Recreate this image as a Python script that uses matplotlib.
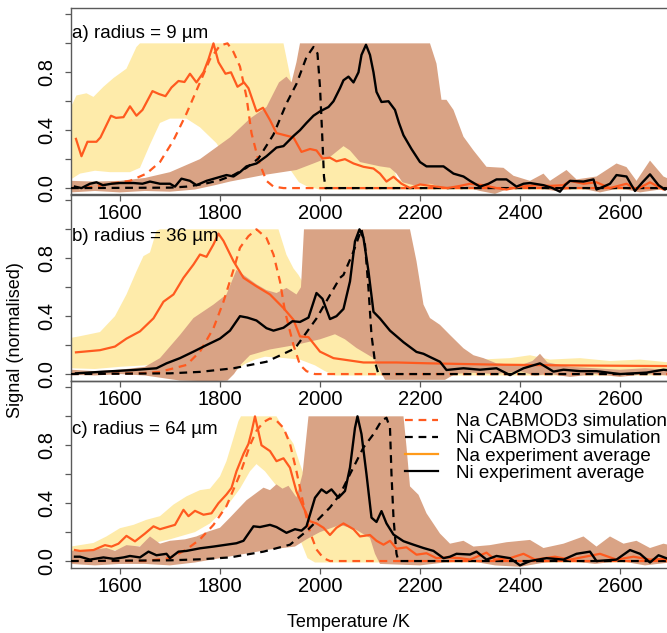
import matplotlib
matplotlib.use("Agg")
import matplotlib.pyplot as plt
import numpy as np
from matplotlib.lines import Line2D

plt.rcParams["font.family"] = ["Liberation Sans", "DejaVu Sans"]

# ---- panel a: radius = 9 um  (temperature K, normalised signal) ----
a_na_exp = [(1512, 0.34), (1523, 0.22), (1535, 0.32), (1553, 0.32), (1561, 0.35), (1582, 0.50), (1592, 0.485),
            (1607, 0.49), (1620, 0.565), (1633, 0.50), (1645, 0.54), (1665, 0.67), (1678, 0.65), (1691, 0.635),
            (1703, 0.695), (1717, 0.74), (1729, 0.733), (1740, 0.79), (1753, 0.73), (1767, 0.80), (1777, 0.89),
            (1787, 1.0), (1797, 0.87), (1811, 0.79), (1822, 0.80), (1835, 0.70), (1848, 0.73), (1857, 0.69),
            (1873, 0.53), (1886, 0.555), (1900, 0.47), (1913, 0.38), (1930, 0.365), (1947, 0.35), (1963, 0.25),
            (1980, 0.27), (1993, 0.26), (2005, 0.205), (2020, 0.21), (2033, 0.185), (2050, 0.20), (2067, 0.17),
            (2087, 0.147), (2107, 0.135), (2120, 0.10), (2133, 0.045), (2147, 0.078), (2163, 0.03), (2180, 0.0),
            (2200, 0.025), (2233, 0.01), (2255, 0.0), (2280, 0.015), (2300, 0.03), (2327, 0.02), (2353, 0.0),
            (2373, -0.01), (2400, 0.01), (2433, 0.02), (2460, 0.015), (2487, 0.02), (2500, 0.05), (2527, 0.03),
            (2553, 0.04), (2580, 0.0), (2613, 0.03), (2633, -0.01), (2660, 0.04), (2687, -0.01), (2700, 0.0)]
a_ni_exp = [(1510, 0.01), (1523, 0.0), (1540, 0.03), (1553, 0.04), (1566, 0.02), (1583, 0.03), (1600, 0.035),
            (1627, 0.035), (1645, 0.03), (1660, 0.045), (1680, 0.03), (1700, 0.03), (1710, 0.01), (1723, 0.065),
            (1740, 0.05), (1753, 0.02), (1773, 0.05), (1793, 0.07), (1813, 0.09), (1827, 0.08), (1840, 0.11),
            (1853, 0.15), (1873, 0.17), (1893, 0.22), (1913, 0.28), (1927, 0.29), (1947, 0.36), (1960, 0.40),
            (1973, 0.45), (1987, 0.50), (2000, 0.53), (2017, 0.56), (2027, 0.60), (2040, 0.69), (2047, 0.745),
            (2057, 0.77), (2067, 0.73), (2077, 0.80), (2083, 0.92), (2092, 0.99), (2100, 0.92), (2107, 0.80),
            (2113, 0.665), (2123, 0.595), (2137, 0.60), (2150, 0.54), (2158, 0.45), (2167, 0.365), (2183, 0.27),
            (2200, 0.18), (2213, 0.15), (2230, 0.15), (2247, 0.15), (2267, 0.10), (2287, 0.08), (2300, 0.05),
            (2320, 0.01), (2337, 0.03), (2353, 0.06), (2373, 0.06), (2393, 0.01), (2407, 0.03), (2420, 0.035),
            (2447, 0.02), (2465, 0.0), (2480, -0.025), (2490, 0.02), (2500, 0.05), (2527, 0.045), (2547, 0.06),
            (2553, -0.01), (2567, 0.01), (2580, 0.03), (2593, 0.09), (2613, 0.08), (2623, 0.02), (2630, -0.02),
            (2645, 0.04), (2660, 0.095), (2677, 0.02), (2690, -0.01), (2700, 0.01)]
a_na_sim = [(1502, 0.0), (1540, 0.005), (1580, 0.03), (1620, 0.05), (1653, 0.10), (1680, 0.18), (1707, 0.33),
            (1733, 0.515), (1760, 0.73), (1780, 0.89), (1800, 0.985), (1815, 1.0), (1827, 0.94), (1840, 0.84),
            (1853, 0.63), (1863, 0.38), (1877, 0.19), (1893, 0.05), (1907, 0.01), (1927, 0.0), (2700, 0.0)]
a_ni_sim = [(1502, 0.0), (1700, 0.003), (1733, 0.01), (1770, 0.03), (1800, 0.055), (1827, 0.09), (1853, 0.14),
            (1877, 0.205), (1907, 0.37), (1933, 0.585), (1953, 0.72), (1973, 0.905), (1987, 0.975), (1995, 0.93),
            (2000, 0.70), (2004, 0.40), (2008, 0.08), (2011, 0.0), (2700, 0.0)]
a_na_lo = [(1502, 0.06), (1520, 0.10), (1550, 0.12), (1580, 0.11), (1620, 0.11), (1640, 0.14), (1660, 0.30),
           (1680, 0.45), (1700, 0.48), (1733, 0.48), (1760, 0.42), (1793, 0.31), (1813, 0.20), (1850, 0.16),
           (1900, 0.15), (1940, 0.13), (1958, 0.04), (1975, 0.01), (2000, -0.01), (2700, -0.01)]
a_na_hi = [(1502, 0.56), (1513, 0.64), (1533, 0.655), (1547, 0.63), (1567, 0.70), (1587, 0.76), (1613, 0.825),
           (1633, 0.975), (1640, 1.0), (1927, 1.0), (1943, 0.73), (1960, 0.60), (2000, 0.50), (2100, 0.40),
           (2140, 0.20), (2155, 0.06), (2200, 0.04), (2300, 0.035), (2400, 0.04), (2500, 0.03), (2600, 0.04),
           (2700, 0.035)]
a_ni_lo = [(1502, -0.03), (1550, -0.02), (1600, -0.03), (1650, -0.02), (1700, -0.025), (1750, -0.01),
           (1790, 0.02), (1820, 0.045), (1887, 0.09), (1953, 0.125), (1987, 0.17), (2020, 0.215), (2047, 0.29),
           (2060, 0.26), (2080, 0.18), (2100, 0.165), (2120, 0.15), (2140, 0.14), (2153, 0.10), (2165, 0.04),
           (2187, 0.02), (2220, 0.03), (2250, 0.0), (2290, 0.01), (2320, -0.02), (2350, -0.04), (2380, 0.0),
           (2420, 0.01), (2470, -0.02), (2520, 0.0), (2560, -0.03), (2600, 0.0), (2640, -0.03), (2700, 0.0)]
a_ni_hi = [(1502, 0.05), (1550, 0.045), (1600, 0.05), (1650, 0.07), (1700, 0.11), (1760, 0.20), (1820, 0.35),
           (1860, 0.48), (1893, 0.56), (1918, 0.73), (1933, 0.77), (1943, 0.73), (1953, 0.87), (1960, 1.0),
           (2220, 1.0), (2233, 0.86), (2243, 0.61), (2253, 0.61), (2267, 0.54), (2287, 0.355), (2307, 0.26),
           (2333, 0.147), (2367, 0.14), (2387, 0.085), (2420, 0.05), (2447, 0.10), (2460, 0.05), (2493, 0.125),
           (2513, 0.06), (2553, 0.08), (2593, 0.17), (2613, 0.145), (2633, 0.05), (2660, 0.19), (2687, 0.08),
           (2700, 0.06)]

# ---- panel b: radius = 36 um ----
b_na_exp = [(1512, 0.15), (1560, 0.165), (1590, 0.19), (1613, 0.245), (1640, 0.295), (1667, 0.385),
            (1687, 0.50), (1707, 0.55), (1727, 0.665), (1747, 0.757), (1760, 0.826), (1773, 0.81), (1787, 0.896),
            (1797, 0.97), (1807, 0.92), (1827, 0.78), (1847, 0.665), (1873, 0.606), (1900, 0.55), (1927, 0.456),
            (1947, 0.375), (1960, 0.26), (1977, 0.255), (2000, 0.155), (2027, 0.11), (2087, 0.08), (2153, 0.08),
            (2220, 0.074), (2353, 0.065), (2487, 0.06), (2700, 0.055)]
b_ni_exp = [(1512, 0.005), (1560, 0.015), (1627, 0.028), (1673, 0.04), (1693, 0.074), (1720, 0.11),
            (1747, 0.155), (1773, 0.20), (1800, 0.245), (1820, 0.30), (1840, 0.40), (1855, 0.39), (1873, 0.37),
            (1893, 0.317), (1907, 0.30), (1927, 0.32), (1945, 0.365), (1960, 0.36), (1977, 0.39), (1993, 0.56),
            (2005, 0.52), (2020, 0.38), (2033, 0.40), (2047, 0.45), (2060, 0.64), (2070, 0.917), (2079, 1.0),
            (2087, 0.94), (2097, 0.71), (2107, 0.43), (2120, 0.384), (2140, 0.30), (2167, 0.22), (2193, 0.153),
            (2207, 0.14), (2220, 0.118), (2240, 0.085), (2253, 0.028), (2287, 0.04), (2320, 0.03), (2353, 0.04),
            (2380, -0.007), (2407, 0.04), (2440, 0.074), (2467, 0.017), (2487, 0.03), (2520, 0.02), (2553, 0.02),
            (2600, 0.0), (2653, 0.01), (2687, 0.03), (2700, 0.025)]
b_na_sim = [(1502, 0.0), (1640, 0.005), (1680, 0.015), (1733, 0.063), (1760, 0.155), (1787, 0.317),
            (1807, 0.50), (1827, 0.72), (1840, 0.873), (1857, 0.953), (1873, 1.0), (1893, 0.94), (1907, 0.826),
            (1920, 0.64), (1930, 0.433), (1947, 0.20), (1960, 0.063), (1973, 0.02), (1990, 0.0), (2700, 0.0)]
b_ni_sim = [(1502, 0.0), (1700, 0.005), (1760, 0.015), (1827, 0.04), (1893, 0.085), (1950, 0.177), (1993, 0.384),
            (2020, 0.546), (2040, 0.665), (2047, 0.685), (2067, 0.847), (2083, 1.0), (2090, 0.894), (2097, 0.59),
            (2103, 0.27), (2110, 0.083), (2117, 0.0), (2700, 0.0)]
b_na_lo = [(1502, 0.04), (1550, 0.035), (1600, 0.05), (1650, 0.06), (1700, 0.07), (1750, 0.06), (1800, 0.04),
           (1830, 0.02), (1850, 0.07), (1870, 0.10), (1890, 0.12), (1930, 0.11), (1960, 0.10), (1990, 0.06),
           (2010, 0.02), (2030, -0.01), (2700, -0.01)]
b_na_hi = [(1502, 0.25), (1518, 0.26), (1560, 0.29), (1590, 0.40), (1613, 0.55), (1633, 0.71), (1647, 0.815),
           (1660, 0.84), (1673, 0.99), (1680, 1.0), (1917, 1.0), (1933, 0.824), (1947, 0.73), (1957, 0.685),
           (1980, 0.55), (2030, 0.50), (2100, 0.30), (2200, 0.20), (2280, 0.12), (2320, 0.10), (2380, 0.11),
           (2420, 0.13), (2460, 0.10), (2520, 0.11), (2580, 0.09), (2640, 0.10), (2700, 0.08)]
b_ni_lo = [(1502, -0.005), (1550, -0.01), (1600, 0.0), (1650, -0.01), (1690, -0.03), (1720, -0.045),
           (1780, -0.05), (1815, -0.045), (1828, 0.0), (1840, 0.06), (1860, 0.13), (1900, 0.17), (1950, 0.20),
           (2000, 0.24), (2030, 0.275), (2050, 0.24), (2073, 0.18), (2107, 0.11), (2118, 0.04), (2130, -0.04),
           (2250, -0.04), (2270, 0.0), (2300, 0.01), (2350, 0.0), (2400, 0.02), (2430, -0.01), (2460, 0.0),
           (2500, -0.02), (2550, 0.0), (2600, -0.02), (2650, 0.0), (2700, -0.01)]
b_ni_hi = [(1502, 0.03), (1550, 0.02), (1600, 0.03), (1650, 0.05), (1680, 0.11), (1720, 0.27), (1747, 0.387),
           (1787, 0.48), (1813, 0.55), (1833, 0.72), (1853, 0.67), (1873, 0.62), (1893, 0.58), (1913, 0.56),
           (1933, 0.595), (1953, 0.55), (1962, 0.60), (1968, 1.0), (2180, 1.0), (2193, 0.78), (2207, 0.48),
           (2220, 0.387), (2240, 0.34), (2260, 0.27), (2287, 0.178), (2307, 0.13), (2327, 0.11), (2353, 0.074),
           (2400, 0.06), (2425, 0.09), (2440, 0.14), (2455, 0.08), (2500, 0.05), (2550, 0.04), (2600, 0.03),
           (2650, 0.04), (2700, 0.03)]

# ---- panel c: radius = 64 um ----
c_na_exp = [(1510, 0.076), (1520, 0.07), (1547, 0.076), (1570, 0.11), (1583, 0.10), (1597, 0.12), (1613, 0.174),
            (1630, 0.136), (1650, 0.19), (1667, 0.24), (1680, 0.22), (1700, 0.24), (1710, 0.25), (1727, 0.354),
            (1737, 0.31), (1750, 0.347), (1767, 0.32), (1783, 0.33), (1797, 0.40), (1813, 0.46), (1823, 0.505),
            (1833, 0.62), (1847, 0.74), (1857, 0.81), (1863, 0.89), (1870, 1.0), (1883, 0.80), (1900, 0.76),
            (1913, 0.69), (1927, 0.71), (1940, 0.645), (1953, 0.48), (1967, 0.37), (1980, 0.275), (1993, 0.26),
            (2007, 0.23), (2020, 0.18), (2033, 0.23), (2047, 0.26), (2067, 0.22), (2080, 0.17), (2100, 0.18),
            (2113, 0.14), (2127, 0.113), (2140, 0.14), (2153, 0.085), (2173, 0.095), (2193, 0.044), (2213, 0.054),
            (2233, 0.02), (2253, 0.025), (2280, 0.02), (2300, 0.01), (2333, 0.058), (2350, 0.01), (2380, 0.02),
            (2407, 0.05), (2430, 0.01), (2470, 0.03), (2500, 0.01), (2530, 0.03), (2560, 0.05), (2593, 0.01),
            (2627, 0.03), (2660, 0.01), (2687, 0.015), (2700, 0.01)]
c_ni_exp = [(1510, 0.03), (1520, 0.03), (1540, 0.01), (1567, 0.025), (1587, 0.015), (1607, 0.025), (1620, 0.035),
            (1640, 0.025), (1657, 0.065), (1673, 0.04), (1693, 0.05), (1700, 0.02), (1717, 0.065), (1733, 0.07),
            (1760, 0.088), (1787, 0.10), (1807, 0.11), (1833, 0.123), (1847, 0.14), (1867, 0.24), (1880, 0.235),
            (1900, 0.25), (1913, 0.235), (1933, 0.195), (1950, 0.22), (1963, 0.21), (1973, 0.24), (1990, 0.437),
            (2003, 0.495), (2013, 0.47), (2023, 0.495), (2037, 0.437), (2050, 0.484), (2060, 0.646), (2070, 0.92),
            (2075, 1.0), (2083, 0.877), (2093, 0.60), (2103, 0.30), (2113, 0.27), (2123, 0.345), (2133, 0.26),
            (2147, 0.183), (2167, 0.137), (2187, 0.113), (2207, 0.09), (2227, 0.07), (2247, 0.02), (2260, 0.03),
            (2273, 0.05), (2300, 0.045), (2313, 0.065), (2333, 0.01), (2353, 0.035), (2380, 0.02), (2400, -0.03),
            (2420, 0.0), (2453, 0.02), (2487, 0.01), (2513, 0.05), (2540, 0.065), (2553, 0.0), (2593, 0.01),
            (2620, 0.076), (2640, 0.05), (2660, -0.01), (2677, 0.04), (2700, 0.01)]
c_na_sim = [(1502, 0.0), (1650, 0.0), (1700, 0.02), (1733, 0.08), (1760, 0.15), (1787, 0.25), (1813, 0.38),
            (1840, 0.60), (1860, 0.80), (1873, 0.90), (1887, 0.96), (1900, 0.985), (1913, 0.97), (1927, 0.92),
            (1940, 0.81), (1953, 0.62), (1967, 0.39), (1980, 0.20), (1993, 0.08), (2007, 0.02), (2020, 0.0),
            (2700, 0.0)]
c_ni_sim = [(1502, 0.0), (1700, 0.005), (1760, 0.012), (1820, 0.025), (1887, 0.065), (1940, 0.113), (1973, 0.206),
            (2000, 0.30), (2020, 0.37), (2040, 0.46), (2060, 0.60), (2087, 0.785), (2107, 0.877), (2123, 0.97),
            (2133, 0.99), (2140, 0.92), (2143, 0.60), (2147, 0.30), (2153, 0.05), (2157, 0.0), (2700, 0.0)]
c_na_lo = [(1502, 0.04), (1550, 0.05), (1600, 0.08), (1650, 0.11), (1700, 0.15), (1750, 0.20), (1780, 0.26),
           (1810, 0.36), (1840, 0.50), (1860, 0.62), (1873, 0.67), (1890, 0.62), (1913, 0.52), (1940, 0.35),
           (1960, 0.15), (1975, 0.02), (1990, -0.01), (2700, -0.01)]
c_na_hi = [(1502, 0.10), (1520, 0.11), (1547, 0.125), (1573, 0.17), (1600, 0.227), (1627, 0.25), (1653, 0.285),
           (1680, 0.31), (1707, 0.39), (1733, 0.447), (1760, 0.49), (1780, 0.50), (1800, 0.585), (1813, 0.69),
           (1827, 0.85), (1837, 0.967), (1842, 1.0), (1913, 1.0), (1930, 0.90), (1947, 0.81), (1960, 0.67),
           (1970, 0.576), (2000, 0.50), (2100, 0.30), (2200, 0.08), (2250, 0.06), (2300, 0.05), (2400, 0.06),
           (2500, 0.05), (2600, 0.06), (2700, 0.05)]
c_ni_lo = [(1502, -0.02), (1550, -0.03), (1600, -0.02), (1650, -0.02), (1700, -0.03), (1750, -0.01), (1800, 0.02),
           (1850, 0.05), (1900, 0.08), (1950, 0.10), (1973, 0.15), (2000, 0.20), (2040, 0.25), (2070, 0.22),
           (2100, 0.16), (2110, 0.05), (2120, -0.02), (2200, -0.03), (2250, -0.01), (2300, 0.0), (2350, -0.03),
           (2400, -0.04), (2450, -0.01), (2500, 0.0), (2550, -0.02), (2600, 0.0), (2650, -0.03), (2700, -0.01)]
c_ni_hi = [(1502, 0.07), (1540, 0.075), (1573, 0.09), (1590, 0.07), (1613, 0.11), (1640, 0.10), (1660, 0.17),
           (1680, 0.12), (1700, 0.14), (1730, 0.15), (1753, 0.17), (1773, 0.20), (1800, 0.23), (1820, 0.30),
           (1853, 0.42), (1887, 0.507), (1900, 0.49), (1913, 0.53), (1925, 0.50), (1937, 0.52), (1953, 0.44),
           (1965, 0.60), (1977, 1.0), (2167, 1.0), (2173, 0.79), (2180, 0.516), (2197, 0.458), (2213, 0.33),
           (2240, 0.19), (2260, 0.12), (2287, 0.14), (2307, 0.10), (2340, 0.11), (2373, 0.13), (2420, 0.146),
           (2447, 0.09), (2487, 0.12), (2527, 0.17), (2553, 0.10), (2580, 0.17), (2607, 0.12), (2633, 0.14),
           (2660, 0.09), (2687, 0.12), (2700, 0.11)]

panel_titles = ["a) radius = 9 µm", "b) radius = 36 µm", "c) radius = 64 µm"]
x_ticks = [1600, 1800, 2000, 2200, 2400, 2600]
y_ticks = [0.0, 0.2, 0.4, 0.6, 0.8, 1.0, 1.2]
y_tick_labels = ["0.0", "", "0.4", "", "0.8", "", ""]
legend_labels = ["Na CABMOD3 simulation", "Ni CABMOD3 simulation",
                 "Na experiment average", "Ni experiment average"]

NA_BAND = "#FEEBAA"
NI_BAND = "#D9A385"
NA_LINE = "#FF5A1F"
NA_LEGEND = "#FF9A1A"
AXIS_GREY = "#5A5A5A"
DASH = (0, (3.5, 2.6))


def _xy(pairs):
    arr = np.asarray(pairs, dtype=float)
    return arr[:, 0], arr[:, 1]


def _band(ax, lo, hi, color):
    t_hi, v_hi = _xy(hi)
    t_lo, v_lo = _xy(lo)
    ax.fill(np.r_[t_hi, t_lo[::-1]], np.r_[v_hi, v_lo[::-1]], color=color, linewidth=0, zorder=1)


def _panel(ax, title, title_y, na_lo, na_hi, ni_lo, ni_hi, na_sim, ni_sim, na_exp, ni_exp):
    ax.set_facecolor("none")
    _band(ax, na_lo, na_hi, NA_BAND)
    _band(ax, ni_lo, ni_hi, NI_BAND)
    ax.plot(*_xy(na_sim), color=NA_LINE, lw=1.6, ls=DASH, zorder=3)
    ax.plot(*_xy(ni_sim), color="black", lw=1.6, ls=DASH, zorder=3)
    ax.plot(*_xy(na_exp), color=NA_LINE, lw=1.6, zorder=4)
    ax.plot(*_xy(ni_exp), color="black", lw=1.7, zorder=5)

    ax.set_xlim(1502, 2694)
    ax.set_ylim(-0.048, 1.244)
    ax.set_xticks(x_ticks)
    ax.set_yticks(y_ticks)
    ax.set_yticklabels(y_tick_labels)
    ax.tick_params(axis="both", direction="out", length=4.3, width=0.9, color=AXIS_GREY)
    ax.tick_params(axis="x", labelsize=14.5, pad=2)
    ax.tick_params(axis="y", labelsize=14.5, pad=6, labelrotation=90)
    for lab in ax.get_yticklabels():
        lab.set_va("center")
    for side in ("left", "bottom", "top"):
        ax.spines[side].set_color(AXIS_GREY)
        ax.spines[side].set_linewidth(1.0)
    ax.spines["right"].set_visible(False)

    ax.text(1505, title_y, title, fontsize=13.5, ha="left", va="center", zorder=6)


fig = plt.figure(figsize=(6.67, 6.33), dpi=100)
left, width, height = 0.1064, 0.8936, 0.2954
ax_a = fig.add_axes([left, 0.6919, width, height])
ax_b = fig.add_axes([left, 0.3981, width, height])
ax_c = fig.add_axes([left, 0.1027, width, height])

_panel(ax_a, panel_titles[0], 1.07, a_na_lo, a_na_hi, a_ni_lo, a_ni_hi, a_na_sim, a_ni_sim, a_na_exp, a_ni_exp)
_panel(ax_b, panel_titles[1], 0.95, b_na_lo, b_na_hi, b_ni_lo, b_ni_hi, b_na_sim, b_ni_sim, b_na_exp, b_ni_exp)
_panel(ax_c, panel_titles[2], 0.91, c_na_lo, c_na_hi, c_ni_lo, c_ni_hi, c_na_sim, c_ni_sim, c_na_exp, c_ni_exp)

handles = [
    Line2D([0], [0], color=NA_LINE, lw=1.6, ls=DASH),
    Line2D([0], [0], color="black", lw=1.6, ls=DASH),
    Line2D([0], [0], color=NA_LEGEND, lw=1.6),
    Line2D([0], [0], color="black", lw=1.6),
]
ax_c.legend(handles, legend_labels, loc="upper left", bbox_to_anchor=(0.560, 0.828), frameon=False,
            fontsize=13.5, handlelength=1.75, handletextpad=1.0, labelspacing=0.0,
            borderpad=0, borderaxespad=0)

fig.text(16 / 667, 0.463, "Signal (normalised)", rotation=90, ha="center", va="center", fontsize=13)
fig.text(0.523, 0.0158, "Temperature /K", ha="center", va="center", fontsize=13)

fig.savefig("out.png", dpi=100)
plt.close(fig)
